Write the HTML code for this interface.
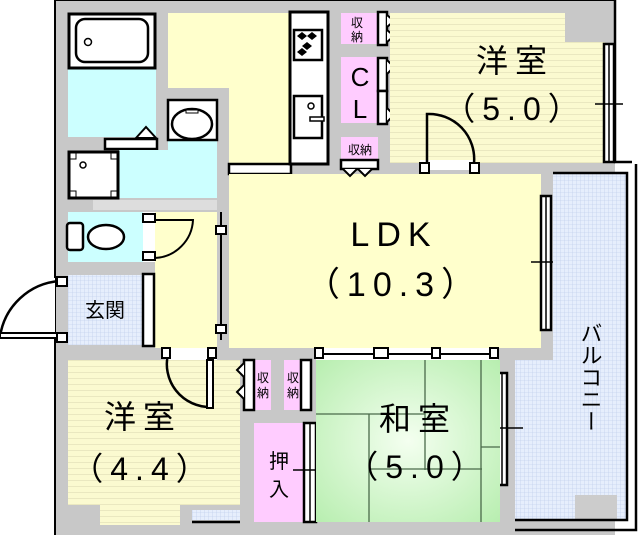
<!DOCTYPE html>
<html><head><meta charset="utf-8"><style>
body{margin:0;background:#fff;}
svg{display:block;font-family:"Liberation Sans","Noto Sans CJK JP",sans-serif;}
.big{letter-spacing:7px;}
</style></head><body>
<svg width="640" height="535" viewBox="0 0 640 535" xmlns="http://www.w3.org/2000/svg">
<defs>
<pattern id="grid" width="4" height="4" patternUnits="userSpaceOnUse"><rect width="4" height="4" fill="#e6eefc"/><path d="M0 0H4M0 0V4" stroke="#b8c8e8" stroke-width="0.6"/></pattern>
<pattern id="stripe" width="6" height="6" patternUnits="userSpaceOnUse"><rect width="6" height="6" fill="#fbfad0"/><path d="M0 0H6" stroke="#d8d6b0" stroke-width="1"/></pattern>
<radialGradient id="tat" cx="0.5" cy="0.5" r="0.7"><stop offset="0" stop-color="#f4fff0"/><stop offset="1" stop-color="#b8eeb0"/></radialGradient>
</defs>
<rect x="55" y="0" width="560" height="535" fill="#c8c8c8"/>
<path d="M55 535V0H615" stroke="#000" stroke-width="2" fill="none"/>
<rect x="615" y="162" width="25" height="373" fill="#fff"/>
<rect x="0" y="278" width="55" height="60" fill="#fff"/>
<rect x="68" y="13" width="88" height="124" fill="#ccffff"/>
<rect x="69" y="14" width="86" height="54" fill="#fff" stroke="#000" stroke-width="3"/>
<rect x="76" y="19" width="72" height="43" rx="9" fill="#fff" stroke="#000" stroke-width="2.5"/>
<circle cx="88" cy="42" r="3.5" fill="none" stroke="#000" stroke-width="1.5"/>
<rect x="105" y="139" width="52" height="10" fill="#fff" stroke="#000" stroke-width="2.5"/>
<path d="M136 138L146 127L156 138Z" fill="#fff" stroke="#000" stroke-width="2"/>
<rect x="168" y="13" width="122" height="75" fill="#ffffcc"/>
<rect x="229" y="88" width="61" height="76" fill="#ffffcc"/>
<rect x="119" y="150" width="98" height="48" fill="#ccffff"/>
<rect x="168" y="100" width="49" height="50" fill="#ccffff"/>
<rect x="168" y="100" width="49" height="40" fill="#fff" stroke="#000" stroke-width="2.5"/>
<ellipse cx="192" cy="124" rx="20" ry="15" fill="#fff" stroke="#000" stroke-width="2.5"/>
<rect x="186" y="110" width="12" height="3" fill="#fff" stroke="#000" stroke-width="1"/>
<rect x="69" y="152" width="49" height="46" fill="#fff" stroke="#000" stroke-width="3"/>
<rect x="70" y="153" width="6" height="6" fill="#fff" stroke="#000"/><rect x="111" y="153" width="6" height="6" fill="#fff" stroke="#000"/>
<rect x="70" y="191" width="6" height="6" fill="#fff" stroke="#000"/><rect x="111" y="191" width="6" height="6" fill="#fff" stroke="#000"/>
<circle cx="83" cy="165" r="3" fill="none" stroke="#000" stroke-width="1.5"/>
<rect x="93" y="200" width="124" height="10" fill="#ddd"/>
<rect x="229" y="164" width="62" height="10" fill="#fff" stroke="#000" stroke-width="2.5"/>
<rect x="68" y="212" width="87" height="50" fill="#ccffff"/>
<rect x="67" y="223" width="16" height="27" rx="3" fill="#fff" stroke="#000" stroke-width="2.5"/>
<ellipse cx="106" cy="237" rx="18" ry="12" fill="#fff" stroke="#000" stroke-width="2.5"/>
<rect x="155" y="212" width="62" height="136" fill="#ffffcc"/>
<rect x="143" y="212" width="12" height="50" fill="#fff"/>
<path d="M155 220H193A40 40 0 0 1 155 258" fill="none" stroke="#000" stroke-width="2"/>
<rect x="143" y="214" width="12" height="8" fill="#fff" stroke="#000" stroke-width="2"/>
<rect x="143" y="252" width="12" height="8" fill="#fff" stroke="#000" stroke-width="2"/>
<rect x="229" y="174" width="312" height="174" fill="#ffffcc"/>
<rect x="290" y="12" width="38" height="152" fill="#fff" stroke="#000" stroke-width="3"/>
<rect x="294" y="30" width="28" height="30" fill="#fff" stroke="#000" stroke-width="2.5"/>
<path d="M297 36l5-4 5 4-5 4zM307 36l5-4 5 4-5 4zM302 46l5-4 5 4-5 4zM297 52l5-4 5 4-5 4z" fill="#000"/>
<rect x="294" y="96" width="28" height="42" fill="#fff" stroke="#000" stroke-width="2.5"/>
<circle cx="311" cy="106" r="3" fill="none" stroke="#000" stroke-width="1.5"/>
<rect x="310" y="117" width="14" height="4" fill="#fff" stroke="#000" stroke-width="1.5"/>
<path d="M221 212V340" stroke="#000" stroke-width="2"/>
<rect x="216" y="226" width="10" height="8" fill="#fff" stroke="#000" stroke-width="2"/>
<rect x="216" y="325" width="10" height="8" fill="#fff" stroke="#000" stroke-width="2"/>
<rect x="541" y="196" width="10" height="134" fill="#fff" stroke="#000" stroke-width="2.5"/>
<path d="M546 197V329M531 262H561" stroke="#000" stroke-width="1.5"/>
<rect x="341" y="13" width="37" height="31" fill="#ffccff"/>
<rect x="341" y="57" width="37" height="66" fill="#ffccff"/>
<rect x="341" y="137" width="37" height="22" fill="#ffccff"/>
<rect x="378" y="12" width="9" height="33" fill="#fff" stroke="#000" stroke-width="2.5"/>
<path d="M387 15l7 6-7 6M387 30l7 6-7 6" fill="#fff" stroke="#000" stroke-width="2"/>
<rect x="378" y="58" width="9" height="33" fill="#fff" stroke="#000" stroke-width="2.5"/>
<rect x="378" y="91" width="9" height="33" fill="#fff" stroke="#000" stroke-width="2.5"/>
<path d="M387 60l7 7-7 7M387 108l7 7-7 7" fill="#fff" stroke="#000" stroke-width="2"/>
<rect x="341" y="160" width="37" height="9" fill="#fff" stroke="#000" stroke-width="2.5"/>
<path d="M343 169l7 7 7-7M358 169l7 7 7-7" fill="#fff" stroke="#000" stroke-width="2"/>
<text x="357" y="27" font-size="12" text-anchor="middle">収</text>
<text x="357" y="41" font-size="12" text-anchor="middle">納</text>
<text x="360" y="86" font-size="26" text-anchor="middle">C</text>
<text x="360" y="118" font-size="26" text-anchor="middle">L</text>
<text x="360" y="154" font-size="12" text-anchor="middle">収納</text>
<rect x="390" y="13" width="175" height="150" fill="url(#stripe)"/>
<rect x="565" y="42" width="40" height="121" fill="url(#stripe)"/>
<rect x="604" y="44" width="10" height="118" fill="#fff" stroke="#000" stroke-width="2.5"/>
<path d="M609 45V161M595 104H623" stroke="#000" stroke-width="1.5"/>
<rect x="420" y="160" width="55" height="10" fill="#fff"/>
<path d="M427 168V114A45 45 0 0 1 474 163" fill="none" stroke="#000" stroke-width="2.5"/>
<rect x="420" y="163" width="9" height="10" fill="#fff" stroke="#000" stroke-width="2"/>
<rect x="470" y="163" width="9" height="10" fill="#fff" stroke="#000" stroke-width="2"/>
<text x="515" y="72" font-size="32" text-anchor="middle" class="big">洋室</text>
<text x="515" y="120" font-size="32" text-anchor="middle" class="big">（5.0）</text>
<rect x="553" y="174" width="74" height="190" fill="url(#grid)"/>
<rect x="515" y="360" width="112" height="160" fill="url(#grid)"/>
<rect x="575" y="495" width="42" height="25" fill="#ccc"/>
<path d="M615 0V162H632M553 173H627V520H515M636 164V530H515" fill="none" stroke="#000" stroke-width="2.5"/>
<rect x="497" y="373" width="10" height="112" fill="#fff" stroke="#000" stroke-width="2.5"/>
<path d="M502 374V484M496 428H523" stroke="#000" stroke-width="1.5"/>
<text x="590" y="322" font-size="22" style="writing-mode:vertical-rl">バルコニー</text>
<rect x="68" y="275" width="75" height="70" fill="url(#grid)"/>
<rect x="143" y="274" width="11" height="72" fill="#fff" stroke="#000" stroke-width="2.5"/>
<path d="M60 281A65 65 0 0 0 0 337" fill="none" stroke="#000" stroke-width="2.5"/>
<rect x="0" y="333" width="58" height="5" fill="#fff" stroke="#000" stroke-width="2"/>
<rect x="57" y="277" width="10" height="9" fill="#fff" stroke="#000" stroke-width="2"/>
<rect x="57" y="333" width="10" height="9" fill="#fff" stroke="#000" stroke-width="2"/>
<text x="105" y="317" font-size="20" text-anchor="middle">玄関</text>
<rect x="68" y="360" width="172" height="145" fill="url(#stripe)"/>
<rect x="100" y="505" width="80" height="20" fill="url(#stripe)"/>
<rect x="192" y="510" width="48" height="10" fill="url(#grid)"/>
<path d="M192 522H240" stroke="#000" stroke-width="2.5"/>
<rect x="165" y="348" width="52" height="12" fill="#fff"/>
<path d="M168 354A43 43 0 0 0 210 407" fill="none" stroke="#000" stroke-width="2.5"/>
<rect x="207" y="360" width="6" height="48" fill="#fff" stroke="#000" stroke-width="2"/>
<rect x="162" y="348" width="8" height="10" fill="#fff" stroke="#000" stroke-width="2"/>
<rect x="208" y="348" width="8" height="10" fill="#fff" stroke="#000" stroke-width="2"/>
<text x="143" y="428" font-size="32" text-anchor="middle" class="big">洋室</text>
<text x="143" y="480" font-size="32" text-anchor="middle" class="big">（4.4）</text>
<rect x="254" y="360" width="17" height="50" fill="#ffccff"/>
<rect x="284" y="360" width="17" height="50" fill="#ffccff"/>
<rect x="244" y="360" width="10" height="50" fill="#fff" stroke="#000" stroke-width="2.5"/>
<path d="M244 363l-7 7 7 7M244 385l-7 7 7 7" fill="#fff" stroke="#000" stroke-width="2"/>
<rect x="301" y="360" width="10" height="50" fill="#fff" stroke="#000" stroke-width="2.5"/>
<text x="263" y="382" font-size="12" text-anchor="middle">収</text>
<text x="263" y="397" font-size="12" text-anchor="middle">納</text>
<text x="293" y="382" font-size="12" text-anchor="middle">収</text>
<text x="293" y="397" font-size="12" text-anchor="middle">納</text>
<rect x="254" y="423" width="50" height="99" fill="#ffccff"/>
<rect x="304" y="423" width="12" height="99" fill="#fff" stroke="#000" stroke-width="2.5"/>
<path d="M310 424V521M293 470H326" stroke="#000" stroke-width="1.5"/>
<text x="279" y="468" font-size="20" text-anchor="middle">押</text>
<text x="279" y="496" font-size="20" text-anchor="middle">入</text>
<rect x="316" y="360" width="184" height="162" fill="url(#tat)"/>
<path d="M316 414H425M369 414V522M425 360V470M369 469H482M481 360V522M481 447H500" stroke="#4a6a4a" stroke-width="1.3" fill="none"/>
<rect x="316" y="348" width="182" height="12" fill="#fff"/>
<path d="M318 354H494" stroke="#000" stroke-width="2"/>
<rect x="315" y="348" width="8" height="10" fill="#fff" stroke="#000" stroke-width="2"/>
<rect x="374" y="348" width="14" height="10" fill="#fff" stroke="#000" stroke-width="2"/>
<rect x="432" y="348" width="8" height="10" fill="#fff" stroke="#000" stroke-width="2"/>
<rect x="490" y="348" width="8" height="10" fill="#fff" stroke="#000" stroke-width="2"/>
<text x="418" y="430" font-size="32" text-anchor="middle" class="big">和室</text>
<text x="418" y="478" font-size="32" text-anchor="middle" class="big">（5.0）</text>
<text x="394" y="246" font-size="34" text-anchor="middle" class="big">LDK</text>
<text x="394" y="296" font-size="34" text-anchor="middle" class="big">（10.3）</text>
</svg>
</body></html>
